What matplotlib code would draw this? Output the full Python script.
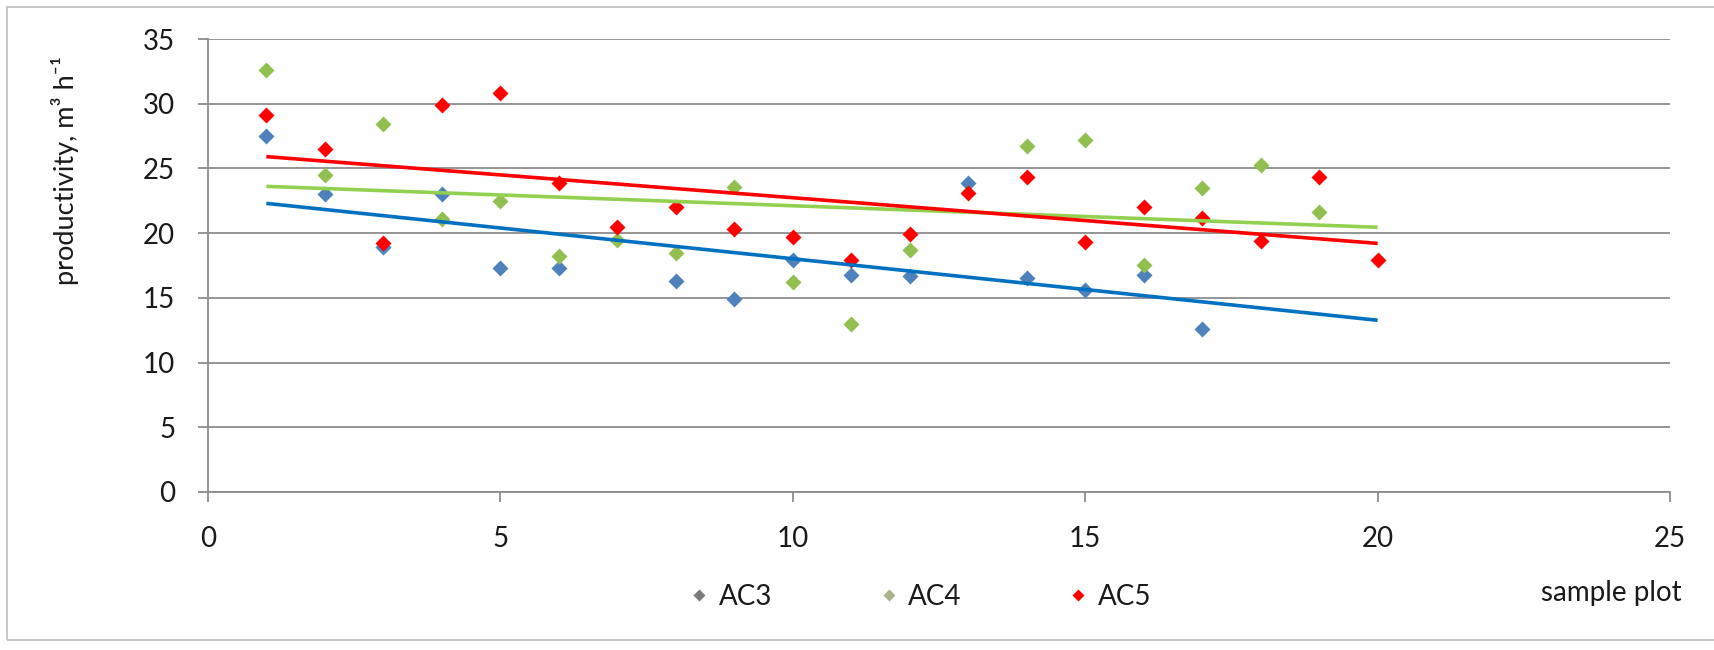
import numpy as np
import matplotlib
matplotlib.use('agg')
import matplotlib.pyplot as plt
from matplotlib.lines import Line2D
from matplotlib.patches import Rectangle

plt.rcParams['font.family'] = ['Lato', 'DejaVu Sans']

# productivity per sample plot, m3/h
x_ac3 = [1, 2, 3, 4, 5, 6, 8, 9, 10, 11, 12, 13, 14, 15, 16, 17]
y_ac3 = [27.5, 23.0, 18.9, 23.0, 17.3, 17.3, 16.3, 14.9, 17.9, 16.8, 16.7, 23.9, 16.5, 15.6, 16.8, 12.6]

x_ac4 = [1, 2, 3, 4, 5, 6, 7, 8, 9, 10, 11, 12, 14, 15, 16, 17, 18, 19]
y_ac4 = [32.6, 24.5, 28.4, 21.1, 22.5, 18.2, 19.5, 18.5, 23.6, 16.2, 13.0, 18.7, 26.7, 27.2, 17.5, 23.5, 25.3, 21.6]

x_ac5 = list(range(1, 21))
y_ac5 = [29.1, 26.5, 19.2, 29.9, 30.8, 23.9, 20.5, 22.0, 20.3, 19.7, 17.9, 19.9, 23.1, 24.3, 19.3, 22.0, 21.2, 19.4, 24.3, 17.9]

names = ['AC3', 'AC4', 'AC5']
marker_colors = ['#4F81BD', '#92C050', '#FF0000']
trend_colors = ['#0070C0', '#92D050', '#FF0000']
legend_colors = ['#7a7a7a', '#a8b389', '#FF0000']

fig = plt.figure(figsize=(17.15, 6.5), dpi=100)
ax = fig.add_axes([0.1212, 0.2431, 0.8526, 0.6969])

series = [(x_ac3, y_ac3), (x_ac4, y_ac4), (x_ac5, y_ac5)]
for i, (xs, ys) in enumerate(series):
    ax.plot(xs, ys, linestyle='none', marker='D', ms=8, mec='none',
            color=marker_colors[i], zorder=3 + i)

# linear trend lines over sample plots 1..20
xt = np.array([1, 20])
for i, (xs, ys) in enumerate(series):
    k, b = np.polyfit(xs, ys, 1)
    ax.plot(xt, k * xt + b, color=trend_colors[i], lw=2.6, zorder=6 + i,
            solid_capstyle='butt')

ax.set_xlim(0, 25)
ax.set_ylim(0, 35)
ax.set_xticks(range(0, 26, 5))
ax.set_yticks(range(0, 36, 5))
ax.yaxis.grid(True, color='#8c8c8c', lw=1.3)
ax.set_axisbelow(True)
for s in ['top', 'right']:
    ax.spines[s].set_visible(False)
for s in ['left', 'bottom']:
    ax.spines[s].set_color('#8c8c8c')
    ax.spines[s].set_linewidth(1.3)
ax.tick_params(axis='both', colors='#8c8c8c', labelcolor='#1a1a1a',
               labelsize=20, length=7.5, width=1.3)
ax.tick_params(axis='y', pad=16)
ax.tick_params(axis='x', pad=17)

fig.text(0.0379, 0.737, 'productivity, m³ h⁻¹', rotation=90,
         ha='center', va='center', fontsize=19.5, color='#1a1a1a')
fig.text(0.9807, 0.0877, 'sample plot', ha='right', va='center',
         fontsize=20, color='#1a1a1a')

handles = [Line2D([], [], linestyle='none', marker='D', ms=6, mec='none',
                  color=c) for c in legend_colors]
fig.legend(handles, names, loc='center', bbox_to_anchor=(0.537, 0.082),
           ncol=3, frameon=False, fontsize=20, handlelength=0.6,
           handletextpad=0.4, columnspacing=3.9, labelcolor='#1a1a1a')

# thin frame around the chart area
fig.patches.append(Rectangle((7 / 1715, 1 - 640 / 650), 1.0, (640 - 7) / 650,
                             transform=fig.transFigure, fill=False,
                             edgecolor='#bdbdbd', lw=1.2))

plt.savefig('out.png', dpi=100)
